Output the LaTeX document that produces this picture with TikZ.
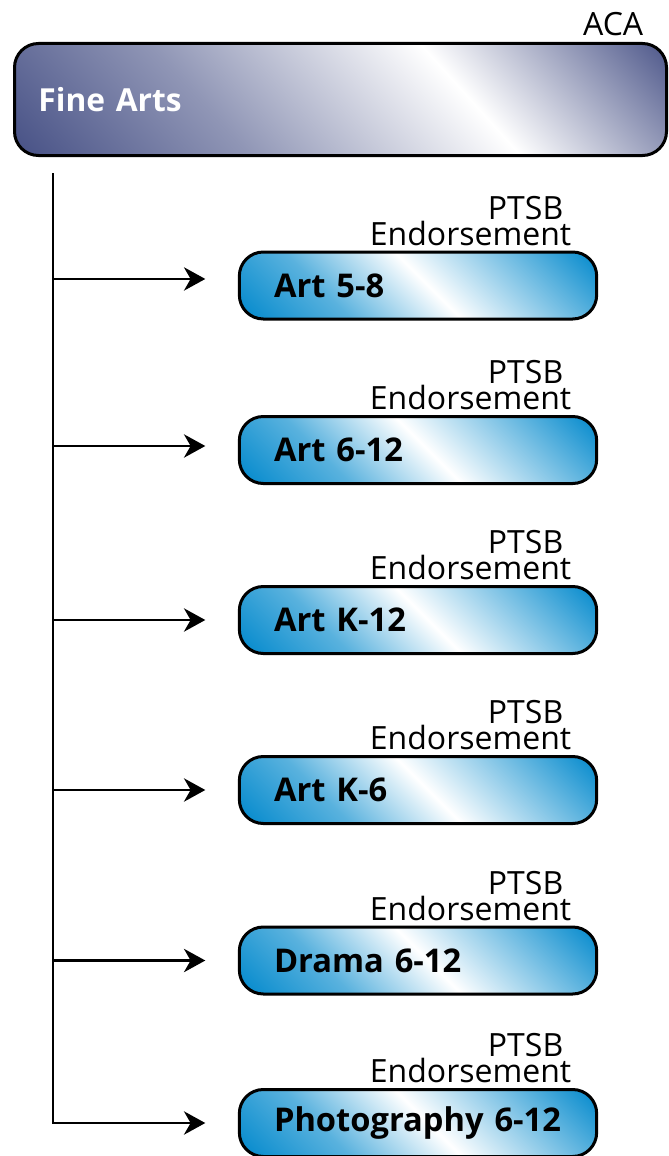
\documentclass[tikz,border=0pt]{standalone}
\usepackage{fontspec}
\setmainfont{Open Sans}
\usepackage{tikz}
\usetikzlibrary{arrows.meta,positioning}
\definecolor{ArtsNavy}   {RGB}{70,  80, 133}
\definecolor{EndorseBlue}{RGB}{0,  136, 204}
\colorlet{ArtsMist}{ArtsNavy!60!white}
\colorlet{BlueMist}{EndorseBlue!65!white}
\pgfdeclarehorizontalshading{navysheen}{100bp}{color(0bp)=(ArtsNavy);
  color(28.5bp)=(ArtsNavy); color(42bp)=(ArtsMist); color(57.4bp)=(white);
  color(72bp)=(ArtsNavy); color(100bp)=(ArtsNavy)}
\pgfdeclarehorizontalshading{bluesheen}{100bp}{color(0bp)=(EndorseBlue);
  color(29bp)=(EndorseBlue); color(40bp)=(BlueMist); color(51bp)=(white);
  color(71bp)=(EndorseBlue); color(100bp)=(EndorseBlue)}

\begin{document}
\begin{tikzpicture}[
  x=0.75pt, y=-0.75pt,
  area/.style={
    draw=black, line width=2.25pt, rounded corners=18pt,
    text width=453pt, align=left, inner xsep=18pt,
    minimum height=84pt, text=white,
    font=\fontsize{23.8}{30}\selectfont\bfseries,
    path picture={\shade[shading=navysheen, shading angle=42]
      ([shift={(-326,-326)}]path picture bounding box.center) rectangle
      ([shift={(326,326)}]path picture bounding box.center);}
  },
  program/.style={
    draw=black, line width=2.25pt, rounded corners=18pt,
    text width=216pt, align=left, inner xsep=26pt,
    minimum height=50.25pt,
    font=\fontsize{24.5}{30}\selectfont\bfseries,
    path picture={\shade[shading=bluesheen, shading angle=45]
      ([shift={(-179,-179)}]path picture bounding box.center) rectangle
      ([shift={(179,179)}]path picture bounding box.center);}
  },
  board/.style={
    inner sep=0pt, align=right,
    font=\fontsize{24}{19.5}\selectfont
  },
  arrow/.style={
    -{Stealth[length=16pt, width=17.5pt, inset=5pt]},
    line width=1.9pt}
]
\useasboundingbox (0,0) rectangle (668,1156);

\node[area] (fine) at (340.5,99.5) {Fine Arts};
\node[board] (aca) [above left=4.5pt and 18.4pt of fine.north east]
  {ACA};

\node[program] (art58) at (418,285.5) {Art 5-8};
\node[board] (art58tag) [above left=3.5pt and 20pt of art58.north east]
  {PTSB\hspace*{6pt}\\Endorsement};
\node[program] (art612) at (418,450) {Art 6-12};
\node[board] (art612tag) [above left=3.5pt and 20pt of art612.north east]
  {PTSB\hspace*{6pt}\\Endorsement};
\node[program] (artk12) at (418,620) {Art K-12};
\node[board] (artk12tag) [above left=3.5pt and 20pt of artk12.north east]
  {PTSB\hspace*{6pt}\\Endorsement};
\node[program] (artk6) at (418,790) {Art K-6};
\node[board] (artk6tag) [above left=3.5pt and 20pt of artk6.north east]
  {PTSB\hspace*{6pt}\\Endorsement};
\node[program] (drama) at (418,960.5) {Drama 6-12};
\node[board] (dramatag) [above left=3.5pt and 20pt of drama.north east]
  {PTSB\hspace*{6pt}\\Endorsement};
\node[program] (photo) at (418,1123) {Photography~6-12};
\node[board] (phototag) [above left=3.5pt and 20pt of photo.north east]
  {PTSB\hspace*{6pt}\\Endorsement};

% arrow ends, just short of each box
\coordinate (trunk) at (53,173);
\coordinate (art58in)  at ([xshift=-24.4pt, yshift=4.9pt]art58.west);
\coordinate (art612in) at ([xshift=-24.4pt, yshift=3pt]art612.west);
\coordinate (artk12in) at ([xshift=-24.4pt]artk12.west);
\coordinate (artk6in)  at ([xshift=-24.4pt]artk6.west);
\coordinate (dramain)  at ([xshift=-24.4pt]drama.west);
\coordinate (photoin)  at ([xshift=-24.4pt]photo.west);

\draw[arrow] (trunk) |- (photoin);
\draw[arrow] (trunk |- art58in) -- (art58in);
\draw[arrow] (trunk |- art612in) -- (art612in);
\draw[arrow] (trunk |- artk12in) -- (artk12in);
\draw[arrow] (trunk |- artk6in) -- (artk6in);
\draw[arrow] (trunk |- dramain) -- (dramain);

\end{tikzpicture}
\end{document}
